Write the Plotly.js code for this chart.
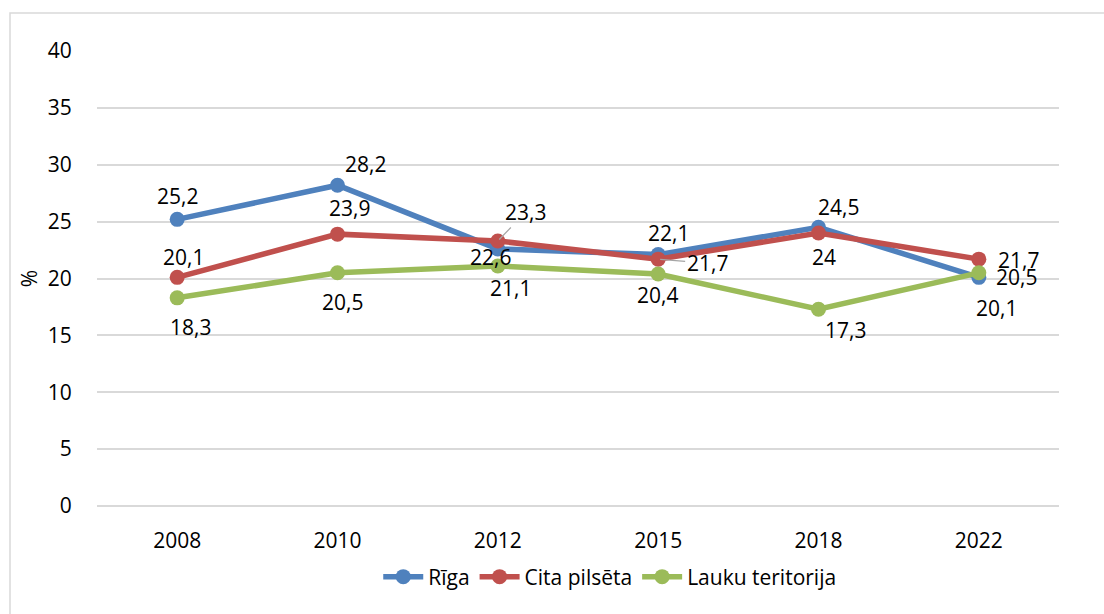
<!DOCTYPE html>
<html>
<head>
<meta charset="utf-8">
<script src="https://cdn.plot.ly/plotly-3.0.1.min.js"></script>
<style>
html,body{margin:0;padding:0;background:#fff;}
#chart{width:1104px;height:614px;}
</style>
</head>
<body>
<div id="chart"></div>
<script>
// ---- data ----
const years = ["2008", "2010", "2012", "2015", "2018", "2022"];
const riga = [25.2, 28.2, 22.6, 22.1, 24.5, 20.1];
const citaPilseta = [20.1, 23.9, 23.3, 21.7, 24, 21.7];
const lauku = [18.3, 20.5, 21.1, 20.4, 17.3, 20.5];
const seriesNames = ["Rīga", "Cita pilsēta", "Lauku teritorija"];
const yTicks = [0, 5, 10, 15, 20, 25, 30, 35, 40];

// ---- styling (label offsets in px: [dx, dy] screen, dy positive = down) ----
const colors = ["#4F81BD", "#C0504D", "#9BBB59"];
const labelOffsets = [
  [[0,-23],[28,-21],[-7,8],[10,-22],[20,-20],[18,31]],
  [[6,-20],[12,-26],[28,-29],[49,4],[5,24],[40,1]],
  [[13,29],[5,29],[13,22],[-1,21],[27,21],[38,4]]
];
const leader = [[false,false,false,false,false,false],
                [false,false,true,true,false,false],
                [false,false,false,false,false,false]];
const fontFam = "'Open Sans', 'Noto Sans', sans-serif";
const fontSize = 21;

const allSeries = [riga, citaPilseta, lauku];
const fmt = v => String(v).replace('.', ',');

const traces = allSeries.map((vals, s) => ({
  type: 'scatter',
  mode: 'lines+markers',
  name: seriesNames[s],
  x: years,
  y: vals,
  line: {color: colors[s], width: 5.5},
  marker: {color: colors[s], size: 15},
  hoverinfo: 'skip'
}));

const annotations = [];
allSeries.forEach((vals, s) => {
  vals.forEach((v, i) => {
    const dx = labelOffsets[s][i][0], dy = labelOffsets[s][i][1];
    const a = {
      x: i, y: v, xref: 'x', yref: 'y',
      text: fmt(v),
      font: {family: fontFam, size: fontSize, color: '#000000'}
    };
    if (leader[s][i]) {
      a.showarrow = true; a.arrowhead = 0; a.arrowwidth = 1.2;
      a.arrowcolor = '#a6a6a6'; a.ax = dx; a.ay = dy; a.standoff = 2;
    } else {
      a.showarrow = false; a.xshift = dx; a.yshift = -dy;
    }
    annotations.push(a);
  });
});

const layout = {
  width: 1104, height: 614,
  margin: {l: 97, r: 45, t: 51, b: 108},
  paper_bgcolor: '#fff', plot_bgcolor: '#fff',
  font: {family: fontFam, size: fontSize, color: '#000'},
  showlegend: true,
  legend: {orientation: 'h', x: 0.533, xanchor: 'center', y: -0.156, yanchor: 'middle',
           font: {family: fontFam, size: fontSize, color: '#000'}, itemwidth: 40},
  xaxis: {type: 'category', range: [-0.5, 5.5], showgrid: false, zeroline: false,
          showline: false, ticks: 'outside', ticklen: 16, tickcolor: 'rgba(0,0,0,0)',
          fixedrange: true},
  yaxis: {range: [0, 40], tickvals: yTicks, ticktext: yTicks.map(String),
          showgrid: true, gridcolor: '#d9d9d9', gridwidth: 1.5,
          zeroline: true, zerolinecolor: '#d9d9d9', zerolinewidth: 1.5,
          showline: false, ticks: 'outside', ticklen: 20, tickcolor: 'rgba(0,0,0,0)',
          title: {text: '%', standoff: 4, font: {family: fontFam, size: fontSize, color: '#000'}},
          fixedrange: true},
  annotations: annotations,
  shapes: [{type: 'rect', xref: 'paper', yref: 'paper',
            x0: (10-97)/962, x1: (1120-97)/962, y0: (506-630)/455, y1: (506-13)/455,
            line: {color: '#d9d9d9', width: 1.5}, layer: 'below'}]
};

Plotly.newPlot('chart', traces, layout, {displayModeBar: false});
</script>
</body>
</html>
